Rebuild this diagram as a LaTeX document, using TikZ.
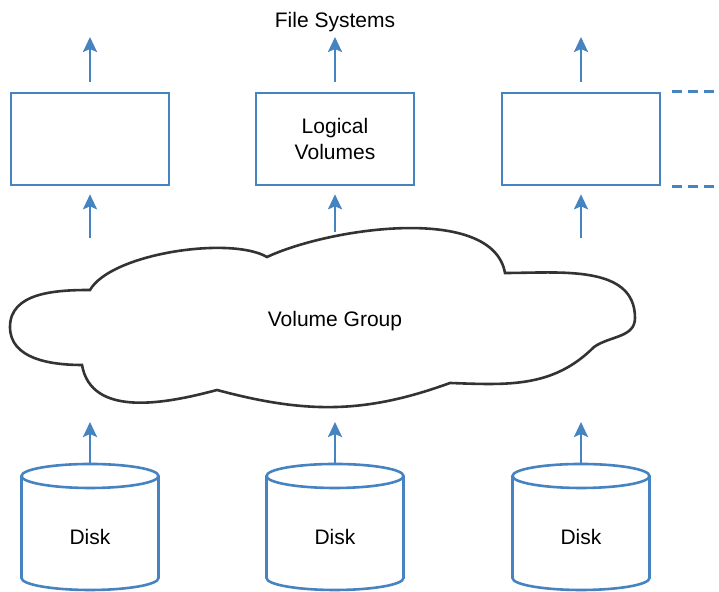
\documentclass[tikz,border=0pt]{standalone}
\usepackage{fontspec}
\setmainfont{Liberation Sans}
\usepackage{tikz}
\usetikzlibrary{arrows.meta}

\definecolor{lvblue}{RGB}{70,131,193}

\begin{document}
\begin{tikzpicture}[x=0.5pt,y=0.5pt,
    font=\fontsize{10.5}{13}\selectfont,
    lvbox/.style={draw=lvblue, line width=1.3pt, minimum width=79pt, minimum height=46pt, align=center, inner sep=0pt},
    diskbody/.style={minimum width=68.5pt, minimum height=51pt, inner sep=0pt, outer sep=0pt},
    diskline/.style={draw=lvblue, line width=1.3pt},
    up/.style={draw=lvblue, line width=1.3pt, -{Stealth[length=7.5pt,width=7pt,inset=1.5pt]}},
    cloudline/.style={draw=black!80, line width=1.3pt}]
    \useasboundingbox (0,0) rectangle (719,592);

    \node (fstext) at (335,570) {File Systems};
    \node[lvbox] (lv1) at (90,453) {};
    \node[lvbox] (lv2) at (335,453) {Logical\\Volumes};
    \node[lvbox] (lv3) at (581,453) {};

    \draw[cloudline] (90,302) to[out=180,in=90] (10,265) to[out=-90,in=180] (82,227)
        to[out=-80,in=195] (217,202)
        to[out=-15,in=200] (450,209)
        to[out=-2,in=225] (594,245)
        to[out=35,in=-90] (635,274) to[out=90,in=0] (505,319)
        to[out=100,in=25,looseness=0.75] (267,335)
        to[out=150,in=60,looseness=0.6] (90,302) -- cycle;
    \node (vg) at (335,271) {Volume Group};

    \node[diskbody] (d1) at (90,65) {};
    \node[diskbody] (d2) at (335,65) {};
    \node[diskbody] (d3) at (581,65) {};

    \coordinate (vg1) at (90,354);
    \coordinate (vg2) at (335,360);
    \coordinate (vg3) at (581,354);
    \foreach \i/\x in {1/90,2/335,3/581} {
      \draw[diskline] (d\i.north west) -- (d\i.south west)
        arc[start angle=180, end angle=360, x radius=68.5, y radius=12] -- (d\i.north east);
      \draw[diskline] (d\i.north) ellipse[x radius=68.5, y radius=12];
      \node (dt\i) at ([yshift=-5pt]d\i.center) {Disk};
      \coordinate (fs\i) at (\x,555);
      \coordinate (dv\i) at (\x,170);
      \draw[up] ([yshift=5pt]lv\i.north) -- (fs\i);
      \draw[up] (vg\i) -- ([yshift=-4pt]lv\i.south);
      \draw[up] ([yshift=6pt]d\i.north) -- (dv\i);
    }

    \draw[draw=lvblue, line width=1.3pt, dash pattern=on 5pt off 3pt]
      ([xshift=5.5pt]lv3.north east) -- ++(50,0)
      ([xshift=5.5pt]lv3.south east) -- ++(50,0);
\end{tikzpicture}
\end{document}
